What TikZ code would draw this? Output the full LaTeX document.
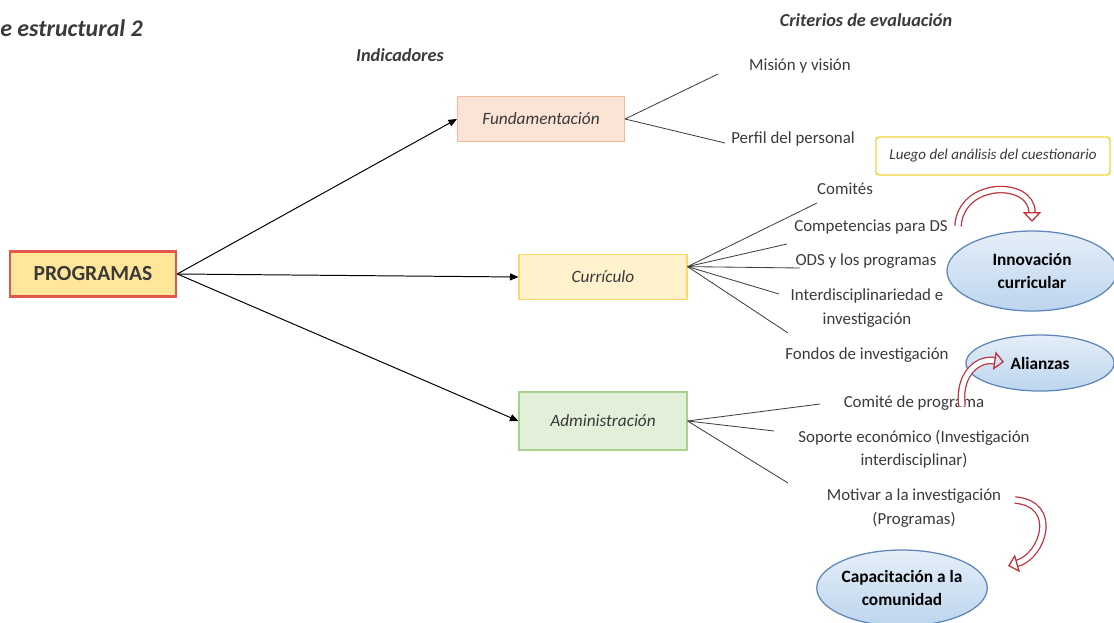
\documentclass[tikz,border=0pt]{standalone}
\usepackage{fontspec}
\setmainfont{Carlito}
\usetikzlibrary{arrows.meta,shapes.geometric}
\definecolor{progfill}{HTML}{FFE699}
\definecolor{progdraw}{HTML}{E2574C}
\definecolor{fundfill}{HTML}{FBE3D6}
\definecolor{funddraw}{HTML}{F4B99A}
\definecolor{currfill}{HTML}{FFF2CC}
\definecolor{currdraw}{HTML}{FFD966}
\definecolor{admfill}{HTML}{E2F0D9}
\definecolor{admdraw}{HTML}{A9D18E}
\definecolor{ellfill}{HTML}{BDD5EE}
\definecolor{elldraw}{HTML}{5E86B8}
\definecolor{notedraw}{HTML}{F2D43A}
\definecolor{redarr}{HTML}{C0303A}
\definecolor{txt}{HTML}{3A3A3A}
\begin{document}
\begin{tikzpicture}[x=0.025cm,y=-0.025cm,
    crit/.style={font=\fontsize{12}{16.5}\selectfont,align=center,text=txt},
    head/.style={font=\fontsize{13}{15}\selectfont\bfseries\itshape,text=txt},
    indbox/.style={draw,line width=0.8pt,minimum width=4.2cm,minimum height=1.125cm,
        font=\fontsize{12.3}{15}\selectfont\itshape,text=txt},
    goal/.style={ellipse,draw=elldraw,line width=0.9pt,top color=ellfill!40,bottom color=ellfill,
        inner sep=0pt,font=\fontsize{12.3}{17}\selectfont\bfseries,align=center},
    redturn/.style={draw=redarr,double=white,double distance=3.6pt,line width=0.9pt,
        -{Triangle[open,length=7pt,width=13pt]}},
    branch/.style={draw=black!75,line width=0.6pt},
    >={Triangle[length=6pt,width=5pt]}]
    \useasboundingbox (0,0) rectangle (1114,623);
    %% Headings
    \node[anchor=west,inner sep=0pt,font=\fontsize{17}{20}\selectfont\bfseries\itshape,text=txt] (title) at (0,28) {e estructural 2};
    \node[head] (indic) at (400,55) {Indicadores};
    \node[head] (crits) at (866,20) {Criterios de evaluación};
    %% Main boxes
    \node[draw=progdraw,fill=progfill,line width=1.8pt,minimum width=4.15cm,minimum height=1.125cm,
        font=\fontsize{15.3}{17}\selectfont\bfseries,text=txt] (prog) at (93,274) {PROGRAMAS};
    \node[indbox,draw=funddraw,fill=fundfill,minimum width=4.175cm] (fund) at (541,119) {Fundamentación};
    \node[indbox,draw=currdraw,fill=currfill] (curr) at (603,277) {Currículo};
    \node[indbox,draw=admdraw,fill=admfill,minimum height=1.45cm] (adm) at (603,421) {Administración};
    \draw[->,line width=0.7pt] (prog.east) -- (fund.west);
    \draw[->,line width=0.7pt] (prog.east) -- (curr.west);
    \draw[->,line width=0.7pt] (prog.east) -- (adm.west);
    %% Criteria
    \node[crit] (mision) at (800,66) {Misión y visión};
    \node[crit] (perfil) at (793,139) {Perfil del personal};
    \node[crit] (comites) at (845,189) {Comités};
    \node[crit] (comp) at (871,227) {Competencias para DS};
    \node[crit] (ods) at (866,261) {ODS y los programas};
    \node[crit] (inter) at (867,308) {Interdisciplinariedad e\\investigación};
    \node[crit] (fondos) at (867,355) {Fondos de investigación};
    \node[crit] (cprog) at (914,403) {Comité de programa};
    \node[crit] (soporte) at (914,449) {Soporte económico (Investigación\\interdisciplinar)};
    \node[crit] (motiv) at (914,508) {Motivar a la investigación\\(Programas)};
    \foreach \i/\x/\y in {1/718/74,2/725/143}
        {\coordinate (f\i) at (\x,\y); \draw[branch] (fund.east) -- (f\i);}
    \foreach \i/\x/\y in {1/817/203,2/787/244,3/800/268,4/779/294,5/788/333}
        {\coordinate (c\i) at (\x,\y); \draw[branch] (curr.7) -- (c\i);}
    \foreach \i/\x/\y in {1/820/404,2/774/431,3/788/483}
        {\coordinate (a\i) at (\x,\y); \draw[branch] (adm.east) -- (a\i);}
    %% Note and results
    \node[draw=notedraw,fill=white,line width=1pt,rounded corners=2pt,minimum width=5.85cm,minimum height=0.95cm,
        font=\fontsize{10.7}{12}\selectfont\itshape,text=txt] (note) at (993,156) {Luego del análisis del cuestionario};
    \node[goal,minimum width=4.25cm,minimum height=2cm] (innov) at (1032,271) {Innovación\\curricular};
    \node[goal,minimum width=3.7cm,minimum height=1.4cm] (alz) at (1040,363) {Alianzas};
    \node[goal,minimum width=4.2cm,minimum height=1.9cm] (capac) at (902,588) {Capacitación a la\\comunidad};
    %% Red turns
    \coordinate (t1s) at (958,226);
    \coordinate (t2s) at (962,406);
    \coordinate (t2e) at (1004,362);
    \coordinate (t3s) at (1015,500);
    \coordinate (t3e) at (1008,566);
    \draw[redturn] (t1s) .. controls +(3,-46) and +(0,-42) .. ([yshift=6pt]innov.north);
    \draw[redturn] (t2s) .. controls +(-4,-30) and +(-28,-4) .. (t2e);
    \draw[redturn] (t3s) .. controls +(45,4) and +(35,-10) .. (t3e);
\end{tikzpicture}
\end{document}
